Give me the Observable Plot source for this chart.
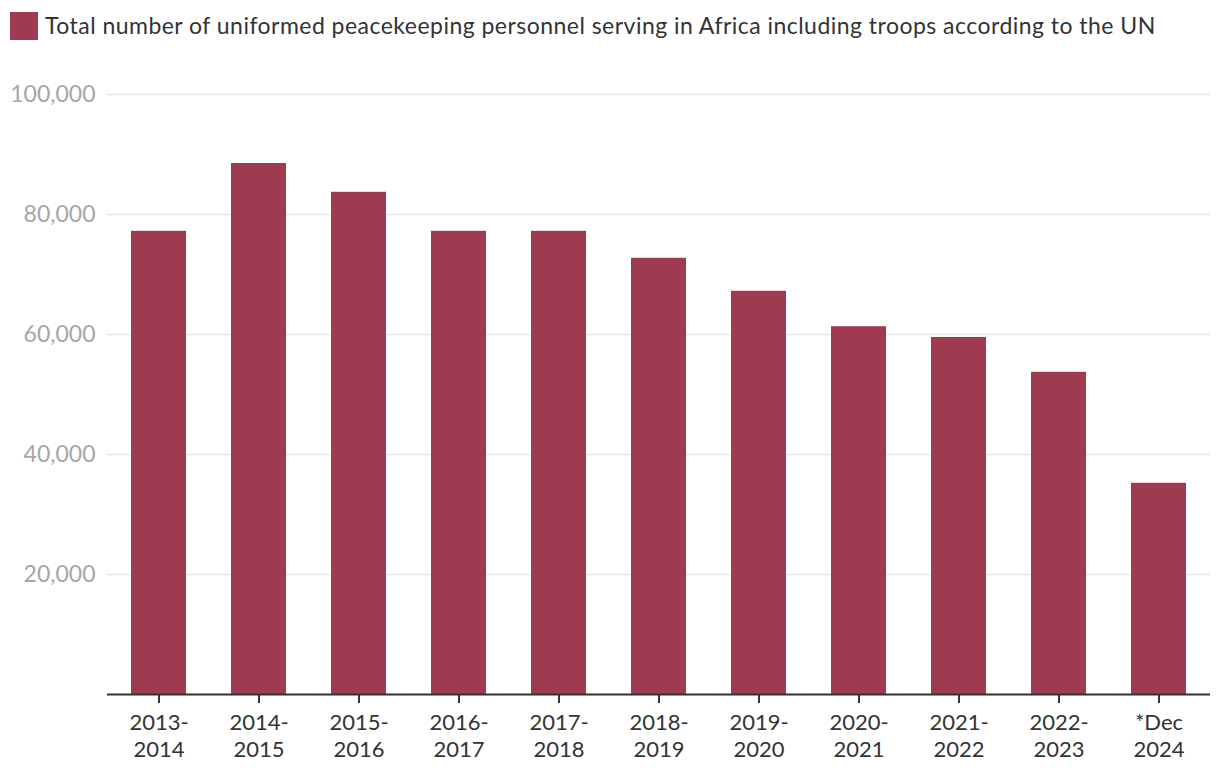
<!DOCTYPE html>
<html>
<head>
<meta charset="utf-8">
<script src="https://cdn.jsdelivr.net/npm/d3@7"></script>
<script src="https://cdn.jsdelivr.net/npm/@observablehq/plot@0.6"></script>
<style>
  html, body { margin: 0; padding: 0; background: #fff; }
  body { width: 1220px; height: 780px; overflow: hidden; font-family: Lato, "Open Sans", sans-serif; }
  #legend { height: 52px; position: relative; }
  #legend .sw { position: absolute; left: 10px; top: 12px; width: 28px; height: 28px; }
  #legend .lab { position: absolute; left: 45px; top: 11px; line-height: 28px; font-size: 23px; letter-spacing: 0.47px; color: #333; white-space: nowrap; }
  #chart svg { display: block; }
</style>
</head>
<body>
<div id="legend"><div class="sw"></div><div class="lab"></div></div>
<div id="chart"></div>
<script>
const seriesName = "Total number of uniformed peacekeeping personnel serving in Africa including troops according to the UN";
const barColor = "#9f3b50";
const categories = ["2013-\n2014", "2014-\n2015", "2015-\n2016", "2016-\n2017", "2017-\n2018", "2018-\n2019", "2019-\n2020", "2020-\n2021", "2021-\n2022", "2022-\n2023", "*Dec\n2024"];
const values = [77200, 88500, 83700, 77200, 77200, 72700, 67200, 61300, 59500, 53700, 35200];
const yTicks = [20000, 40000, 60000, 80000, 100000];

document.querySelector("#legend .sw").style.background = barColor;
document.querySelector("#legend .lab").textContent = seriesName;

const data = categories.map((c, i) => ({category: c, value: values[i]}));

const chart = Plot.plot({
  width: 1220,
  height: 728,
  marginTop: 42,
  marginBottom: 86,
  marginLeft: 107,
  marginRight: 10,
  style: {fontFamily: "Lato, 'Open Sans', sans-serif", fontSize: "22px", background: "#fff"},
  x: {type: "band", domain: categories, paddingInner: 0.45, paddingOuter: 0.23, label: null},
  y: {domain: [0, 100000], label: null},
  marks: [
    Plot.ruleY(yTicks, {stroke: "#e6e6e6", strokeWidth: 1.5}),
    Plot.axisY({ticks: yTicks, tickSize: 0, tickPadding: 12, tickFormat: d3.format(","), color: "#a6a6a6", fontSize: 23, label: null}),
    Plot.barY(data, {x: "category", y: "value", fill: barColor}),
    Plot.ruleY([0], {stroke: "#333", strokeWidth: 2}),
    Plot.axisX({tickSize: 9, tickPadding: 8, stroke: "#333", strokeWidth: 2, color: "#333", fontSize: 22, lineHeight: 1.2, label: null})
  ]
});
document.getElementById("chart").appendChild(chart);
</script>
</body>
</html>
